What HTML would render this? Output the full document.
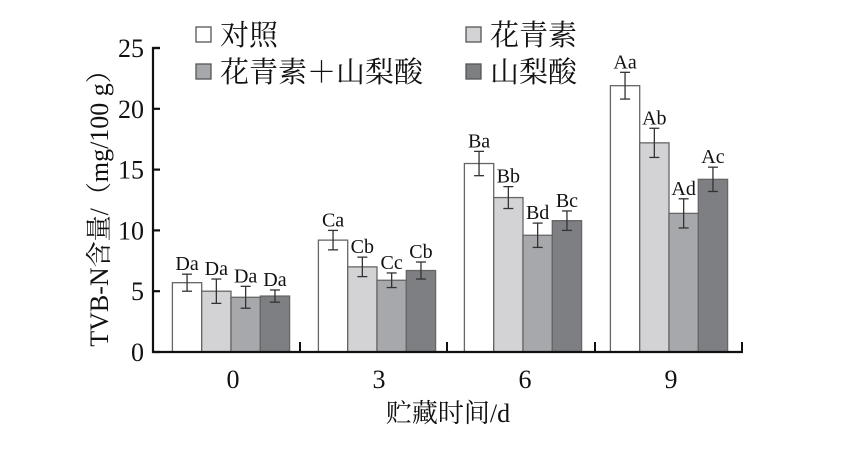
<!DOCTYPE html>
<html><head><meta charset="utf-8"><style>
body{margin:0;background:#fff}
svg text{font-family:"Liberation Serif","Noto Serif CJK SC",serif;fill:#111}
</style></head><body>
<svg id="c" width="853" height="444" xmlns="http://www.w3.org/2000/svg"></svg>
<script>
const categories=["0","3","6","9"];
const seriesNames=["对照","花青素","花青素＋山梨酸","山梨酸"];
const control=[5.7,9.2,15.5,21.9];
const anthocyanin=[5.0,7.0,12.7,17.2];
const combo=[4.5,5.9,9.6,11.4];
const sorbic=[4.6,6.7,10.8,14.2];
const controlErr=[0.7,0.8,1.0,1.1];
const anthocyaninErr=[1.0,0.8,0.9,1.2];
const comboErr=[0.9,0.6,1.0,1.2];
const sorbicErr=[0.5,0.7,0.8,1.0];
const controlLbl=["Da","Ca","Ba","Aa"];
const anthocyaninLbl=["Da","Cb","Bb","Ab"];
const comboLbl=["Da","Cc","Bd","Ad"];
const sorbicLbl=["Da","Cb","Bc","Ac"];
const yTicks=[0,5,10,15,20,25];
const NS="http://www.w3.org/2000/svg";
const svg=document.getElementById('c');
function el(t,a,p){const e=document.createElementNS(NS,t);for(const k in a)e.setAttribute(k,a[k]);(p||svg).appendChild(e);return e;}
const x0=153,x1=742,yb=352,yt=48;
const y=v=>yb-(v/25)*(yb-yt);
const gw=(x1-x0)/categories.length;
const bw=29.3;
const gx=i=>158+146*i+73;
const fills=["#ffffff","#d3d3d5","#a7a8ab","#7e7f83"];
const vals=[control,anthocyanin,combo,sorbic];
const errs=[controlErr,anthocyaninErr,comboErr,sorbicErr];
const lbls=[controlLbl,anthocyaninLbl,comboLbl,sorbicLbl];
const keys=["control","anthocyanin","combo","sorbic"];
for(let s=0;s<4;s++){
 for(let i=0;i<categories.length;i++){
  const bx=gx(i)-2*bw+s*bw, v=vals[s][i], e=errs[s][i];
  const r=el('rect',{x:bx,y:y(v),width:bw,height:yb-y(v),fill:fills[s],stroke:"#666","stroke-width":1.3});
  
  
  const cx=bx+bw/2;
  const g=el('g',{stroke:"#333","stroke-width":1.3});
  
  
  el('line',{x1:cx,x2:cx,y1:y(v+e),y2:y(v-e)},g);
  el('line',{x1:cx-5,x2:cx+5,y1:y(v+e),y2:y(v+e)},g);
  el('line',{x1:cx-5,x2:cx+5,y1:y(v-e),y2:y(v-e)},g);
  const t=el('text',{x:cx,y:y(v+e)-4,"text-anchor":"middle","font-size":20});
  t.textContent=lbls[s][i];
  
  
 }
}
const ax=el('path',{d:`M${x0+7},${yt} H${x0} V${yb} H${x1+1}`,fill:"none",stroke:"#111","stroke-width":2.2});


yTicks.forEach(v=>{
 el('line',{x1:x0,x2:x0+7,y1:y(v),y2:y(v),stroke:"#111","stroke-width":2.2});
 const t=el('text',{x:x0-9,y:y(v)+9,"text-anchor":"end","font-size":26});
 t.textContent=v;
 
 
});
const seps=[300,447,595,742];
seps.forEach(sx=>el('line',{x1:sx,x2:sx,y1:yb,y2:yb-10,stroke:"#111","stroke-width":2}));
categories.forEach((c,i)=>{
 const t=el('text',{x:gx(i)+2,y:388,"text-anchor":"middle","font-size":26});
 t.textContent=c;
 
 
});
const xt=el('text',{x:448,y:422,"text-anchor":"middle","font-size":26});
xt.textContent="贮藏时间/d";


const yt2=el('text',{x:0,y:0,"text-anchor":"middle","font-size":26,transform:"translate(108,202) rotate(-90)"});
yt2.textContent="TVB-N含量/（mg/100 g）";


const lpos=[[196,41],[466,41],[196,78],[466,78]];
seriesNames.forEach((n,s)=>{
 const g=el('g',{});
 
 
 el('rect',{x:lpos[s][0],y:lpos[s][1]-14,width:15,height:15,fill:fills[s],stroke:"#555","stroke-width":1.3},g);
 const t=el('text',{x:lpos[s][0]+24,y:lpos[s][1]+4,"font-size":29,"font-family":"'Noto Serif CJK SC',serif"},g);
 t.textContent=n;
});
</script>
</body></html>
